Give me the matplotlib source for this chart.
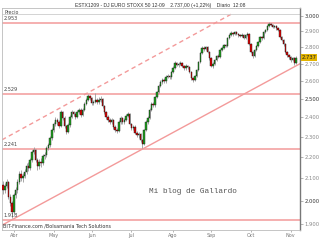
import matplotlib
matplotlib.use("Agg")
import matplotlib.pyplot as plt
import numpy as np
import pandas as pd

# ---------------- data ----------------
start_date = "2009-03-24"

opens = [2070, 2047, 2065, 2083, 2016, 1990, 1951, 2025, 2047, 2083,
         2121, 2102, 2111, 2130, 2158, 2150, 2186, 2225, 2235, 2186,
         2158, 2177, 2170, 2205, 2210, 2245, 2259, 2294, 2335, 2366,
         2387, 2376, 2356, 2429, 2397, 2356, 2325, 2361, 2402, 2429,
         2418, 2402, 2429, 2440, 2413, 2440, 2472, 2494, 2516, 2505,
         2478, 2483, 2494, 2480, 2494, 2499, 2461, 2429, 2402, 2387,
         2376, 2385, 2350, 2335, 2330, 2376, 2397, 2376, 2387, 2408,
         2418, 2366, 2345, 2352, 2320, 2309, 2316, 2284, 2264, 2335,
         2376, 2397, 2440, 2472, 2465, 2510, 2538, 2571, 2594, 2606,
         2598, 2623, 2628, 2620, 2652, 2675, 2704, 2693, 2699, 2704,
         2687, 2675, 2687, 2680, 2652, 2617, 2606, 2628, 2663, 2710,
         2764, 2795, 2788, 2800, 2770, 2734, 2687, 2699, 2722, 2746,
         2740, 2783, 2795, 2813, 2806, 2857, 2876, 2888, 2880, 2895,
         2882, 2876, 2869, 2878, 2857, 2876, 2882, 2819, 2770, 2746,
         2783, 2807, 2832, 2863, 2855, 2895, 2907, 2933, 2945, 2939,
         2926, 2932, 2920, 2907, 2863, 2844, 2819, 2770, 2752, 2740,
         2722, 2734, 2704]

closes = [2047, 2065, 2083, 2016, 1990, 1951, 2025, 2047, 2083, 2121,
          2102, 2111, 2130, 2158, 2150, 2186, 2225, 2235, 2186, 2158,
          2177, 2170, 2205, 2210, 2245, 2259, 2294, 2335, 2366, 2387,
          2376, 2356, 2429, 2397, 2356, 2325, 2361, 2402, 2429, 2418,
          2402, 2429, 2440, 2413, 2440, 2472, 2494, 2516, 2505, 2478,
          2483, 2494, 2480, 2494, 2499, 2461, 2429, 2402, 2387, 2376,
          2385, 2350, 2335, 2330, 2376, 2397, 2376, 2387, 2408, 2418,
          2366, 2345, 2352, 2320, 2309, 2316, 2284, 2264, 2335, 2376,
          2397, 2440, 2472, 2465, 2510, 2538, 2571, 2594, 2606, 2598,
          2623, 2628, 2620, 2652, 2675, 2704, 2693, 2699, 2704, 2687,
          2675, 2687, 2680, 2652, 2617, 2606, 2628, 2663, 2710, 2764,
          2795, 2788, 2800, 2770, 2734, 2687, 2699, 2722, 2746, 2740,
          2783, 2795, 2813, 2806, 2857, 2876, 2888, 2880, 2895, 2882,
          2876, 2869, 2878, 2857, 2876, 2882, 2819, 2770, 2746, 2783,
          2807, 2832, 2863, 2855, 2895, 2907, 2933, 2945, 2939, 2926,
          2932, 2920, 2907, 2863, 2844, 2819, 2770, 2752, 2740, 2722,
          2734, 2704, 2737]

highs = [2090, 2080, 2098, 2090, 2030, 2000, 2035, 2060, 2095, 2135,
         2138, 2125, 2145, 2170, 2175, 2195, 2235, 2248, 2240, 2195,
         2190, 2195, 2215, 2225, 2255, 2270, 2305, 2345, 2378, 2400,
         2398, 2385, 2440, 2436, 2405, 2362, 2370, 2412, 2440, 2436,
         2428, 2438, 2452, 2448, 2450, 2480, 2505, 2525, 2522, 2512,
         2495, 2530, 2505, 2508, 2515, 2506, 2468, 2436, 2412, 2395,
         2396, 2390, 2358, 2345, 2385, 2408, 2404, 2398, 2418, 2430,
         2424, 2372, 2362, 2358, 2328, 2326, 2322, 2290, 2342, 2385,
         2406, 2448, 2480, 2485, 2518, 2546, 2580, 2603, 2615, 2614,
         2632, 2640, 2636, 2660, 2684, 2715, 2712, 2708, 2716, 2712,
         2694, 2696, 2695, 2686, 2658, 2624, 2636, 2670, 2718, 2772,
         2804, 2806, 2810, 2806, 2776, 2740, 2708, 2730, 2754, 2756,
         2790, 2804, 2822, 2822, 2864, 2884, 2898, 2896, 2904, 2902,
         2890, 2884, 2888, 2884, 2884, 2892, 2888, 2826, 2776, 2790,
         2815, 2840, 2870, 2872, 2902, 2916, 2942, 2960, 2954, 2946,
         2942, 2938, 2926, 2912, 2870, 2850, 2824, 2778, 2760, 2746,
         2742, 2738, 2745]

lows = [2030, 2035, 2055, 2005, 1975, 1925, 1940, 2010, 2035, 2075,
        2090, 2085, 2100, 2120, 2135, 2140, 2175, 2215, 2175, 2140,
        2145, 2155, 2160, 2190, 2200, 2235, 2250, 2285, 2325, 2355,
        2362, 2345, 2350, 2388, 2345, 2312, 2318, 2352, 2395, 2405,
        2392, 2396, 2420, 2402, 2405, 2432, 2465, 2486, 2495, 2468,
        2466, 2475, 2470, 2472, 2484, 2452, 2420, 2392, 2376, 2365,
        2366, 2340, 2325, 2318, 2325, 2368, 2366, 2368, 2380, 2400,
        2358, 2336, 2335, 2312, 2298, 2295, 2276, 2245, 2258, 2328,
        2368, 2390, 2432, 2456, 2458, 2502, 2530, 2563, 2585, 2588,
        2590, 2614, 2610, 2612, 2645, 2668, 2684, 2682, 2690, 2678,
        2664, 2666, 2670, 2644, 2608, 2594, 2600, 2620, 2656, 2704,
        2756, 2778, 2780, 2762, 2725, 2678, 2676, 2692, 2715, 2732,
        2734, 2775, 2788, 2798, 2800, 2850, 2868, 2872, 2874, 2874,
        2866, 2860, 2862, 2848, 2850, 2868, 2812, 2762, 2734, 2740,
        2776, 2800, 2826, 2846, 2850, 2888, 2900, 2926, 2930, 2918,
        2918, 2910, 2898, 2856, 2835, 2810, 2762, 2742, 2730, 2712,
        2714, 2695, 2700]

month_labels = ["Abr", "May", "Jun", "Jul", "Ago", "Sep", "Oct", "Nov"]
ytick_values = [1900, 2000, 2100, 2200, 2300, 2400, 2500, 2600, 2700, 2800, 2900, 3000]
major_ytick_values = [2000, 2500, 3000]

level_values = [2953, 2529, 2241, 1918]
level_labels = ["2.953", "2.529", "2.241", "1.918"]

# trend lines: (day index, price) endpoints
support_days = [-0.55, 164.1]
support_prices = [1895, 2700]
resist_days = [-0.55, 127.0]
resist_prices = [2285, 3016]

last_price_label = "2.737"
last_price = 2737
title_text = "ESTX1209 - DJ EURO STOXX 50 12-09    2.737,00 (+1,22%)    Diario  12:08"

# ---------------- drawing ----------------
dates = pd.bdate_range(start_date, periods=len(closes))
idx = np.arange(len(closes))
o = np.array(opens, float)
c = np.array(closes, float)
h = np.array(highs, float)
l = np.array(lows, float)

fig = plt.figure(figsize=(3.2, 2.4), dpi=100)
ax = fig.add_axes([2 / 320, 1 - 230 / 240, 298 / 320, 222 / 240])
ax.set_yscale("log")
ax.set_ylim(1875, 3051)
ax.set_xlim(-0.55, 164.1)

line_col = "#f39a9a"
for v in level_values:
    ax.axhline(v, color=line_col, lw=1.1, zorder=1)
for v, lab in zip(level_values, level_labels):
    ax.annotate(lab, xy=(0.006, v), xycoords=("axes fraction", "data"),
                xytext=(0, 1.2), textcoords="offset points", fontsize=3.6,
                color="#444444", va="bottom", ha="left", family="DejaVu Sans")

ax.plot(support_days, support_prices, color=line_col, lw=1.0, zorder=1)
ax.plot(resist_days, resist_prices, color=line_col, lw=1.0, zorder=1,
        dashes=(3.2, 2.4))

# candles
up = c >= o
ax.vlines(idx, l, h, color="#9a9a9a", lw=0.6, zorder=2)
bottoms = np.minimum(o, c)
heights = np.abs(c - o)
ax.bar(idx[up], heights[up], bottom=bottoms[up], width=0.8,
       color="#1fa31f", edgecolor="#1a1a1a", lw=0.3, zorder=3)
ax.bar(idx[~up], heights[~up], bottom=bottoms[~up], width=0.8,
       color="#e00000", edgecolor="#1a1a1a", lw=0.3, zorder=3)

# x axis: month starts
month_pos = [i for i in range(1, len(dates)) if dates[i].month != dates[i - 1].month]
ax.set_xticks(month_pos)
ax.set_xticklabels(month_labels[:len(month_pos)])
ax.tick_params(axis="x", length=1.5, width=0.5, colors="#999999", labelsize=3.5,
               labelcolor="#777777", pad=0.8)

# y axis on the right
ax.yaxis.tick_right()
ax.yaxis.set_minor_locator(matplotlib.ticker.NullLocator())
ax.set_yticks(ytick_values)
ax.set_yticklabels([f"{v:,}".replace(",", ".") for v in ytick_values])
ax.tick_params(axis="y", length=2, width=0.5, colors="#999999", labelsize=3.8,
               labelcolor="#888888", pad=1.5)
for t, v in zip(ax.get_yticklabels(), ytick_values):
    if v in major_ytick_values:
        t.set_color("#333333")

for side in ["left", "top", "bottom"]:
    ax.spines[side].set_color("#bbbbbb")
    ax.spines[side].set_linewidth(0.6)
ax.spines["right"].set_color("#777777")
ax.spines["right"].set_linewidth(1.0)

# header strip and footer
ax.axhline(3014, color="#cccccc", lw=0.6, zorder=1)
ax.text(0.008, 0.992, "Precio", transform=ax.transAxes, fontsize=3.4,
        color="#444444", va="top", ha="left")
ax.text(0.005, 0.006, "BIT-Finance.com /Bolsamania Tech Solutions",
        transform=ax.transAxes, fontsize=3.5, color="#333333",
        va="bottom", ha="left")

# price tag
ax.annotate(last_price_label, xy=(1.0, last_price), xycoords=("axes fraction", "data"),
            xytext=(1.2, 0), textcoords="offset points", fontsize=3.8,
            color="#222222", va="center", ha="left",
            bbox=dict(boxstyle="square,pad=0.15", fc="#e3b400", ec="none"))

# watermark
ax.text(0.64, 0.175, "Mi blog de Gallardo", transform=ax.transAxes,
        fontsize=5.6, family="Liberation Mono", color="#555555",
        ha="center", va="center")

fig.text(160 / 320, 1 - 5 / 240, title_text, fontsize=3.6, color="#333333",
         ha="center", va="center", family="Liberation Sans")

fig.savefig("out.png", dpi=100)
